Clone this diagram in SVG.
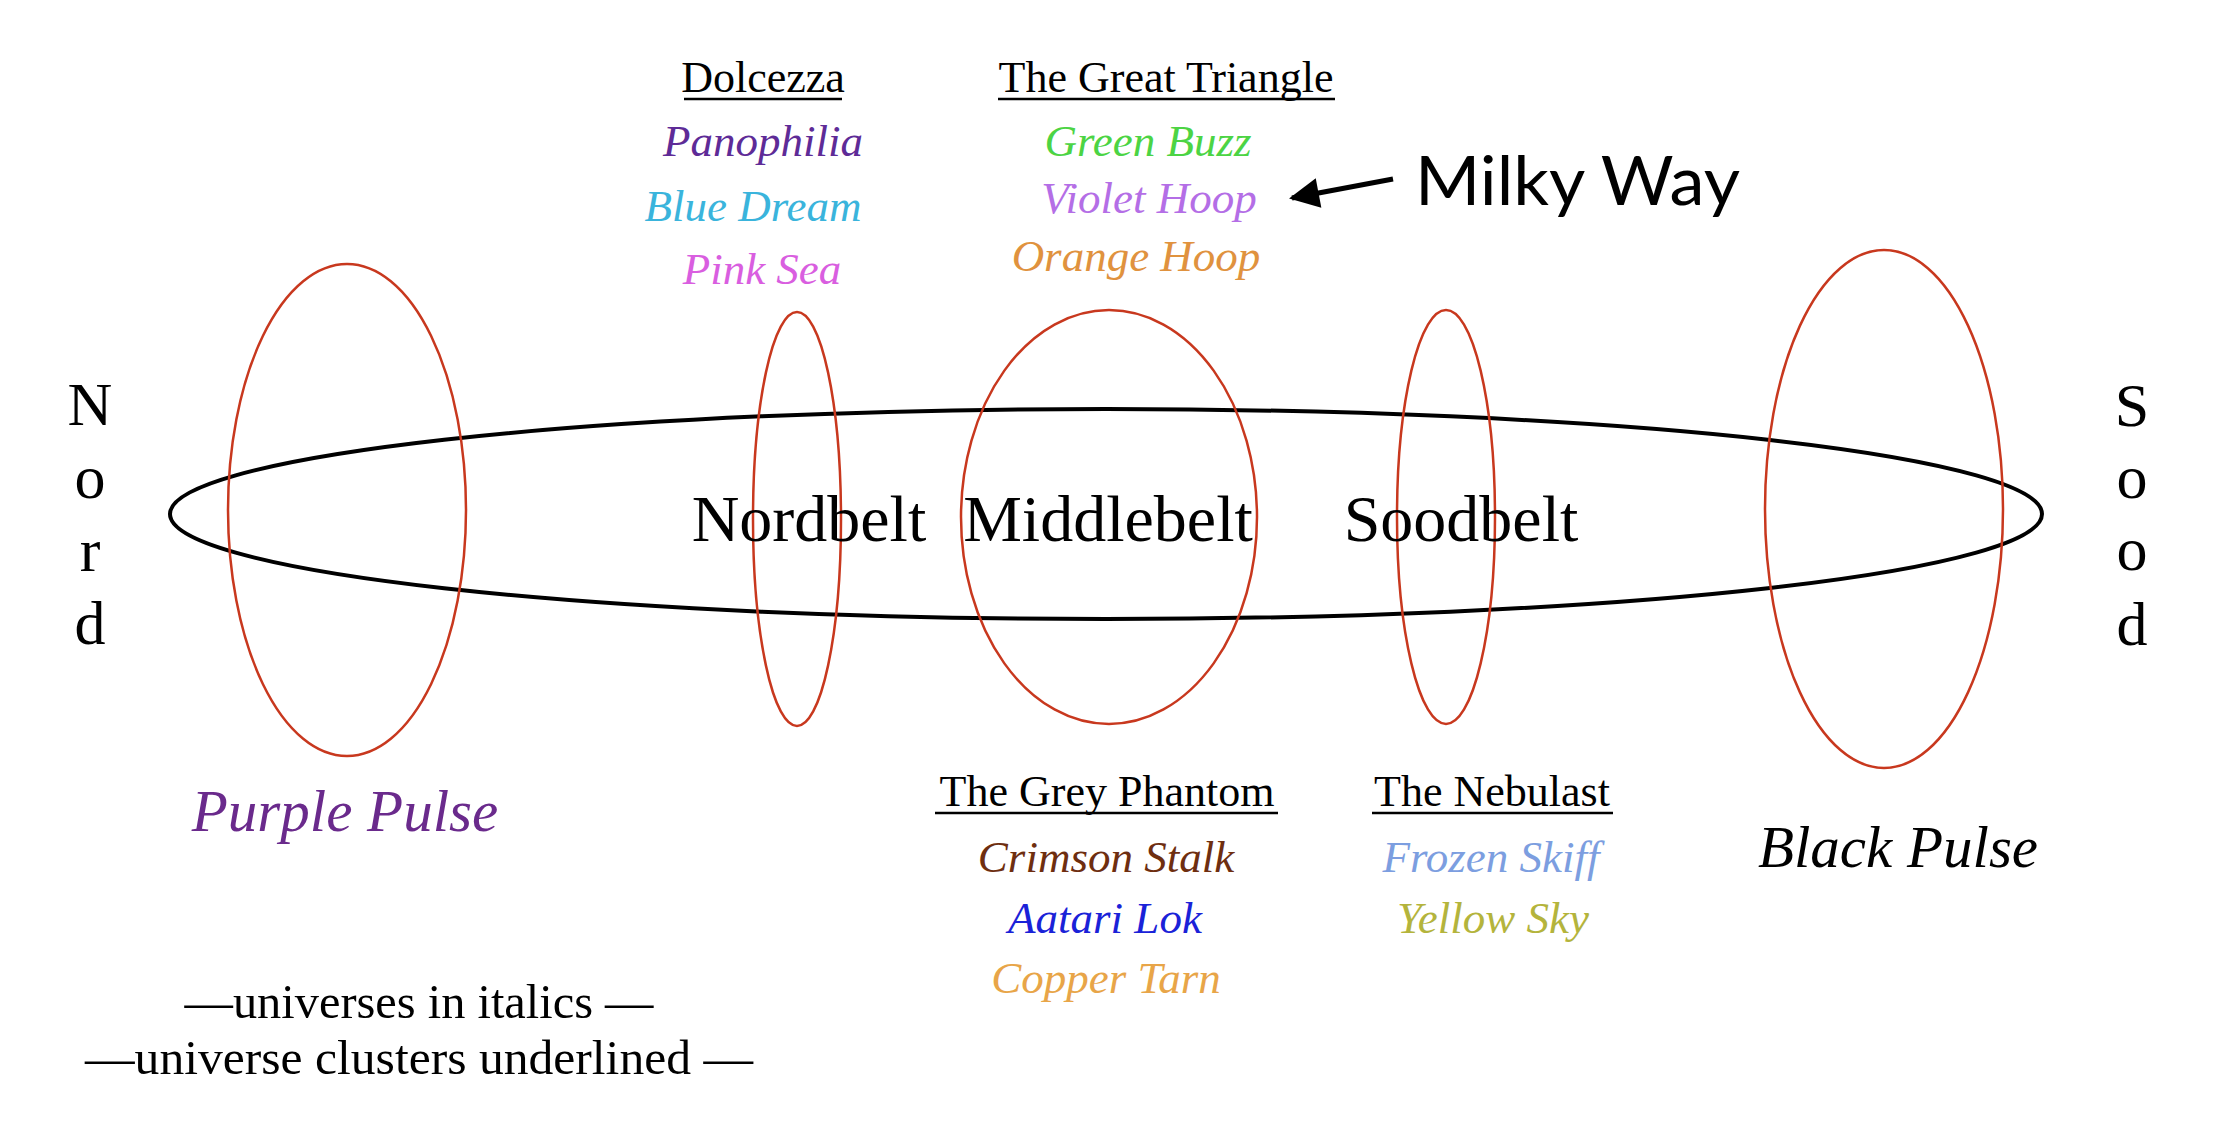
<svg xmlns="http://www.w3.org/2000/svg" width="2228" height="1148" viewBox="0 0 2228 1148">
<defs>
<marker id="ah" viewBox="0 0 10 10" refX="9" refY="5" markerWidth="6.5" markerHeight="6" orient="auto" markerUnits="strokeWidth">
<path d="M0,0 L10,5 L0,10 z" fill="#000"/>
</marker>
<style>
.hd{font-family:"Liberation Serif",serif;font-size:44px;fill:#000;text-anchor:middle;}
.it{font-family:"Liberation Serif",serif;font-style:italic;font-size:45px;text-anchor:middle;}
.big{font-family:"Liberation Serif",serif;font-size:66px;fill:#000;text-anchor:middle;}
.pulse{font-family:"Liberation Serif",serif;font-style:italic;font-size:59px;text-anchor:middle;}
.vert{font-family:"Liberation Serif",serif;font-size:62px;fill:#000;text-anchor:middle;}
.leg{font-family:"Liberation Serif",serif;font-size:48px;fill:#000;text-anchor:middle;}
.ul{stroke:#000;stroke-width:2.5;}
.red{fill:none;stroke:#c8381e;stroke-width:2.5;}
</style>
</defs>
<rect width="2228" height="1148" fill="#fff"/>

<g id="milky-ellipse">
<ellipse cx="1106" cy="514" rx="936" ry="105" fill="none" stroke="#000" stroke-width="4"/>
</g>

<g id="purple-pulse">
<ellipse class="red" cx="347" cy="510" rx="119" ry="246"/>
<text class="pulse" x="345" y="831" fill="#6a2a8c">Purple Pulse</text>
</g>

<g id="nordbelt">
<ellipse class="red" cx="797" cy="519" rx="44" ry="207"/>
<text class="big" x="809" y="541">Nordbelt</text>
</g>

<g id="middlebelt">
<ellipse class="red" cx="1109" cy="517" rx="148" ry="207"/>
<text class="big" x="1108" y="541">Middlebelt</text>
</g>

<g id="soodbelt">
<ellipse class="red" cx="1446" cy="517" rx="49" ry="207"/>
<text class="big" x="1461" y="541">Soodbelt</text>
</g>

<g id="black-pulse">
<ellipse class="red" cx="1884" cy="509" rx="119" ry="259"/>
<text class="pulse" x="1898" y="867" fill="#000">Black Pulse</text>
</g>

<g id="nord">
<text class="vert" x="90" y="425">N</text>
<text class="vert" x="90" y="498">o</text>
<text class="vert" x="90" y="571">r</text>
<text class="vert" x="90" y="644">d</text>
</g>

<g id="sood">
<text class="vert" x="2132" y="426">S</text>
<text class="vert" x="2132" y="498">o</text>
<text class="vert" x="2132" y="570">o</text>
<text class="vert" x="2132" y="645">d</text>
</g>

<g id="dolcezza">
<text class="hd" x="763" y="92">Dolcezza</text>
<line class="ul" x1="684" y1="99" x2="842" y2="99"/>
<text class="it" x="763" y="156" fill="#5e2b97">Panophilia</text>
<text class="it" x="753" y="221" fill="#3ab4dc">Blue Dream</text>
<text class="it" x="762" y="284" fill="#d95ee0">Pink Sea</text>
</g>

<g id="great-triangle">
<text class="hd" x="1166" y="92">The Great Triangle</text>
<line class="ul" x1="998" y1="99" x2="1335" y2="99"/>
<text class="it" x="1148" y="156" fill="#4cd444">Green Buzz</text>
<text class="it" x="1149" y="213" fill="#b46ee6">Violet Hoop</text>
<text class="it" x="1136" y="271" fill="#e0923e">Orange Hoop</text>
</g>

<g id="milky-way">
<text x="1415" y="205" font-family="Lato, 'Open Sans', sans-serif" font-size="68" fill="#000" textLength="325" lengthAdjust="spacingAndGlyphs">Milky Way</text>
</g>

<g id="grey-phantom">
<text class="hd" x="1107" y="806">The Grey Phantom</text>
<line class="ul" x1="935" y1="813" x2="1278" y2="813"/>
<text class="it" x="1106" y="872" fill="#6e2e10">Crimson Stalk</text>
<text class="it" x="1105" y="933" fill="#1a22d8">Aatari Lok</text>
<text class="it" x="1106" y="993" fill="#e8a548">Copper Tarn</text>
</g>

<g id="nebulast">
<text class="hd" x="1492" y="806">The Nebulast</text>
<line class="ul" x1="1372" y1="813" x2="1613" y2="813"/>
<text class="it" x="1491" y="872" fill="#7c9ee0">Frozen Skiff</text>
<text class="it" x="1493" y="933" fill="#b4b43c">Yellow Sky</text>
</g>

<g id="legend">
<text class="leg" x="419" y="1018" textLength="469" lengthAdjust="spacingAndGlyphs">—universes in italics —</text>
<text class="leg" x="419" y="1074" textLength="668" lengthAdjust="spacingAndGlyphs">—universe clusters underlined —</text>
</g>

<g id="connectors">
<line x1="1393" y1="179" x2="1292" y2="198" stroke="#000" stroke-width="5" marker-end="url(#ah)"/>
</g>
</svg>
